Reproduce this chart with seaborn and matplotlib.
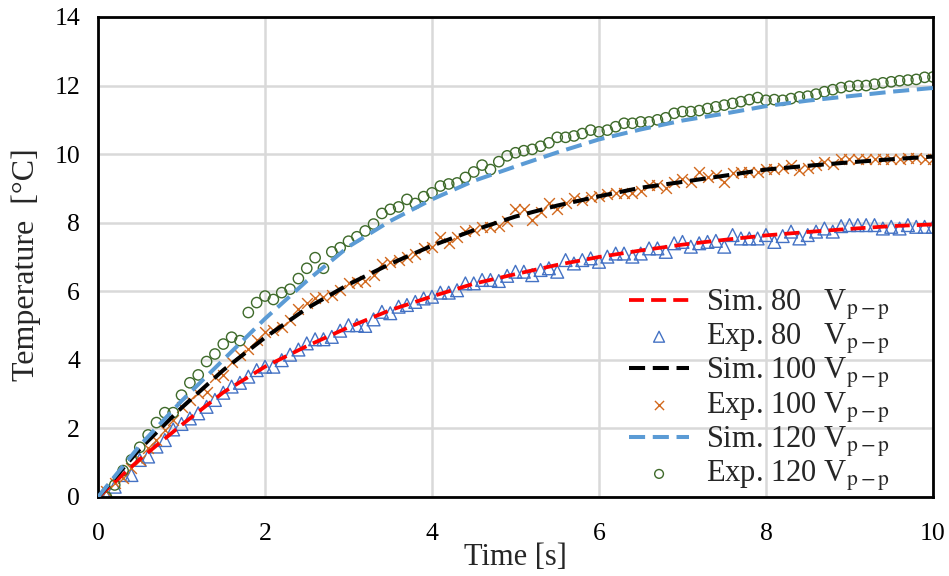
import numpy as np
import pandas as pd
import matplotlib
matplotlib.use("Agg")
import matplotlib.pyplot as plt
import seaborn as sns

# ---------------- data ----------------
sim_time = [0.0, 0.5, 1.0, 1.5, 2.0, 2.5, 3.0, 3.5, 4.0, 4.5, 5.0, 5.5, 6.0, 6.5, 7.0,
            7.5, 8.0, 8.5, 9.0, 9.5, 10.0]
sim_80 = [0.0, 1.1, 2.1, 3.05, 3.8, 4.4, 4.95, 5.45, 5.85, 6.22, 6.5, 6.77, 7.0, 7.19,
          7.36, 7.5, 7.63, 7.73, 7.82, 7.9, 7.95]
sim_100 = [0.0, 1.4, 2.6, 3.7, 4.65, 5.5, 6.2, 6.8, 7.33, 7.78, 8.18, 8.5, 8.77, 9.02,
           9.19, 9.37, 9.55, 9.66, 9.76, 9.85, 9.93]
sim_120 = [0.0, 1.5, 2.8, 4.0, 5.2, 6.3, 7.3, 8.05, 8.68, 9.22, 9.64, 10.05, 10.43,
           10.72, 10.98, 11.18, 11.4, 11.56, 11.69, 11.82, 11.93]

exp_time = [round(0.1 * i, 1) for i in range(101)]
exp_80 = [0.0, 0.01, 0.30, 0.64, 0.64, 1.08, 1.18, 1.47, 1.66, 1.97,
          2.13, 2.29, 2.44, 2.63, 2.83, 3.04, 3.22, 3.33, 3.51, 3.70,
          3.80, 3.80, 3.99, 4.15, 4.30, 4.48, 4.60, 4.60, 4.67, 4.85,
          5.01, 5.01, 4.99, 5.18, 5.40, 5.36, 5.55, 5.60, 5.69, 5.79,
          5.84, 5.96, 5.96, 6.03, 6.23, 6.23, 6.33, 6.33, 6.30, 6.45,
          6.57, 6.57, 6.47, 6.62, 6.67, 6.57, 6.91, 6.81, 6.91, 6.96,
          6.86, 7.01, 7.10, 7.10, 7.01, 7.10, 7.25, 7.25, 7.15, 7.40,
          7.44, 7.30, 7.40, 7.44, 7.47, 7.30, 7.64, 7.54, 7.54, 7.54,
          7.64, 7.44, 7.61, 7.74, 7.54, 7.64, 7.74, 7.83, 7.74, 7.90,
          7.93, 7.93, 7.93, 7.93, 7.83, 7.88, 7.83, 7.93, 7.88, 7.88,
          7.88]
exp_100 = [0.0, 0.16, 0.40, 0.54, 0.84, 1.08, 1.42, 1.66, 1.95, 2.24,
           2.63, 2.83, 3.02, 3.07, 3.51, 3.56, 3.94, 4.14, 4.33, 4.58,
           4.82, 4.87, 4.97, 5.15, 5.48, 5.65, 5.79, 5.84, 5.89, 6.03,
           6.25, 6.28, 6.30, 6.47, 6.79, 6.86, 6.91, 7.01, 7.08, 7.25,
           7.28, 7.57, 7.40, 7.59, 7.77, 7.78, 7.88, 7.86, 7.89, 8.06,
           8.39, 8.39, 8.08, 8.32, 8.58, 8.39, 8.56, 8.71, 8.66, 8.74,
           8.78, 8.85, 8.87, 8.87, 8.87, 8.93, 9.10, 9.10, 9.00, 9.19,
           9.26, 9.19, 9.48, 9.32, 9.39, 9.19, 9.44, 9.48, 9.48, 9.48,
           9.58, 9.58, 9.61, 9.68, 9.53, 9.61, 9.68, 9.78, 9.71, 9.87,
           9.87, 9.87, 9.87, 9.87, 9.87, 9.87, 9.87, 9.90, 9.90, 9.87,
           9.87]
exp_120 = [np.nan, 0.0, 0.35, 0.77, 1.08, 1.45, 1.81, 2.17, 2.46, 2.46,
           2.97, 3.33, 3.56, 3.95, 4.17, 4.46, 4.66, 4.56, 5.38, 5.67,
           5.86, 5.76, 5.96, 6.06, 6.37, 6.67, 6.98, 6.67, 7.15, 7.27,
           7.46, 7.59, 7.76, 7.96, 8.27, 8.39, 8.46, 8.68, 8.56, 8.76,
           8.87, 9.07, 9.13, 9.16, 9.32, 9.48, 9.68, 9.55, 9.78, 9.95,
           10.04, 10.10, 10.14, 10.23, 10.33, 10.49, 10.49, 10.53, 10.60, 10.70,
           10.65, 10.70, 10.80, 10.90, 10.90, 10.94, 10.94, 11.00, 11.06, 11.19,
           11.24, 11.24, 11.27, 11.33, 11.38, 11.43, 11.48, 11.53, 11.59, 11.65,
           11.57, 11.59, 11.57, 11.62, 11.67, 11.69, 11.75, 11.82, 11.88, 11.94,
           11.98, 12.00, 12.00, 12.04, 12.08, 12.11, 12.14, 12.16, 12.18, 12.24,
           12.25]

x_ticks = [0, 2, 4, 6, 8, 10]
y_ticks = [0, 2, 4, 6, 8, 10, 12, 14]

sim_df = pd.DataFrame({"t": sim_time, "s80": sim_80, "s100": sim_100, "s120": sim_120})
exp_df = pd.DataFrame({"t": exp_time, "e80": exp_80, "e100": exp_100, "e120": exp_120})

# ---------------- style ----------------
sns.set_style("white")
plt.rcParams["font.family"] = ["Liberation Serif", "DejaVu Serif"]
plt.rcParams["mathtext.fontset"] = "stix"

fig, ax = plt.subplots(figsize=(9.49, 5.76), dpi=100)
fig.subplots_adjust(left=0.1033, right=0.9831, top=0.9705, bottom=0.1372)

sub = r"$_{\mathrm{p-p}}$"
dash = (0, (4.0, 1.9))

sns.lineplot(data=sim_df, x="t", y="s80", ax=ax, color="#FF0000", lw=2.7,
             linestyle=dash, label="Sim. 80   V" + sub, zorder=3)
sns.scatterplot(data=exp_df, x="t", y="e80", ax=ax, marker="^", s=85,
                facecolor="none", edgecolor="#4472C4", linewidth=1.0,
                label="Exp. 80   V" + sub, zorder=2)
sns.lineplot(data=sim_df, x="t", y="s100", ax=ax, color="black", lw=2.9,
             linestyle=dash, label="Sim. 100 V" + sub, zorder=3)
sns.scatterplot(data=exp_df, x="t", y="e100", ax=ax, marker="x", s=60,
                color="#D2691E", linewidth=1.0, label="Exp. 100 V" + sub, zorder=2)
sns.lineplot(data=sim_df, x="t", y="s120", ax=ax, color="#5B9BD5", lw=2.9,
             linestyle=dash, label="Sim. 120 V" + sub, zorder=3)
sns.scatterplot(data=exp_df, x="t", y="e120", ax=ax, marker="o", s=55,
                facecolor="none", edgecolor="#3E6A2A", linewidth=1.0,
                label="Exp. 120 V" + sub, zorder=2)

ax.set_xlim(0, 10)
ax.set_ylim(0, 14)
ax.set_xticks(x_ticks)
ax.set_yticks(y_ticks)
ax.set_xticklabels([str(v) for v in x_ticks])
ax.set_yticklabels([str(v) for v in y_ticks])
ax.tick_params(axis="both", length=0, labelsize=18.5, colors="black")
ax.tick_params(axis="x", pad=19)
ax.tick_params(axis="y", pad=13)
ax.grid(True, color="#D9D9D9", lw=1.8)
ax.set_axisbelow(True)
for sp in ax.spines.values():
    sp.set_color("black")
    sp.set_linewidth(2)

ax.set_xlabel("Time [s]", fontsize=22, labelpad=-2)
ax.set_ylabel("Temperature  [°C]", fontsize=23)
ax.yaxis.set_label_coords(-0.068, 0.485)

handles, labels = ax.get_legend_handles_labels()
leg = ax.legend(handles, labels, loc="lower right", bbox_to_anchor=(0.948, 0.008),
                frameon=False, fontsize=22, handlelength=1.95, handletextpad=0.55,
                labelspacing=0.0, borderaxespad=0.0, borderpad=0.0, markerscale=0.85)

fig.savefig("out.png", dpi=100)
